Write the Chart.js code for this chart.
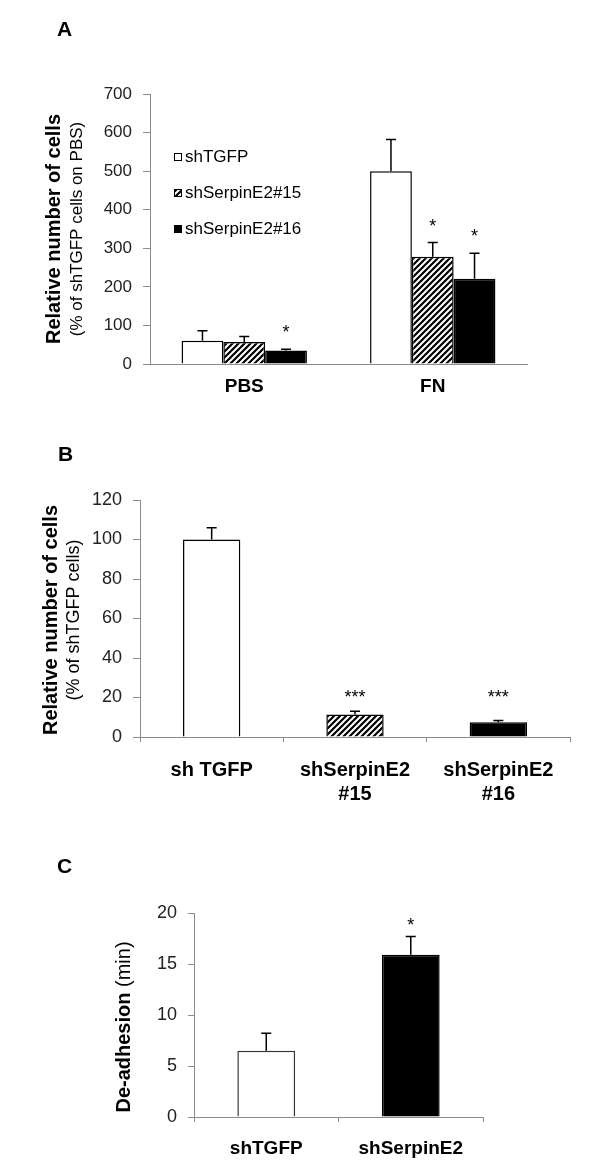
<!DOCTYPE html>
<html>
<head>
<meta charset="utf-8">
<script src="https://cdn.jsdelivr.net/npm/chart.js@4.4.0/dist/chart.umd.min.js"></script>
<style>
  html, body { margin: 0; padding: 0; background: #fff; }
  body { width: 600px; height: 1172px; position: relative; overflow: hidden; }
  canvas { position: absolute; left: 0; }
</style>
</head>
<body>
<canvas id="chartA" width="600" height="420" style="top:0px"></canvas>
<canvas id="chartB" width="600" height="390" style="top:420px"></canvas>
<canvas id="chartC" width="600" height="362" style="top:810px"></canvas>
<script>
// panel A - adhesion on PBS / fibronectin
const groupsA = ['PBS', 'FN'];
const namesA = ['shTGFP', 'shSerpinE2#15', 'shSerpinE2#16'];
const tgfpA = [60, 500];
const serp15A = [57, 278];
const serp16A = [35, 221];
const tgfpErrA = [26, 82];
const serp15ErrA = [14, 37];
const serp16ErrA = [3.5, 66];
const tgfpSigA = ['', ''];
const serp15SigA = ['', '*'];
const serp16SigA = ['*', '*'];
const yTitleA = ['Relative number of cells', '(% of shTGFP cells on PBS)'];

// panel B - migration
const labelsB = ['sh TGFP', ['shSerpinE2', '#15'], ['shSerpinE2', '#16']];
const valuesB = [100, 11.4, 7.5];
const errB = [6, 1.6, 0.8];
const sigB = ['', '***', '***'];
const yTitleB = ['Relative number of cells', '(% of shTGFP cells)'];

// panel C - de-adhesion time
const labelsC = ['shTGFP', 'shSerpinE2'];
const valuesC = [6.5, 15.9];
const errC = [1.7, 1.8];
const sigC = ['', '*'];
const yTitleC = ['De-adhesion', '(min)'];

const FONT = "'Liberation Sans', Arial, sans-serif";
const AXIS = '#8c8c8c';

function hatch(ctx) {
  const t = document.createElement('canvas');
  t.width = 6; t.height = 6;
  const g = t.getContext('2d');
  g.fillStyle = '#fff';
  g.fillRect(0, 0, 6, 6);
  g.strokeStyle = '#000';
  g.lineWidth = 2.2;
  g.beginPath();
  g.moveTo(-1, 7); g.lineTo(7, -1);
  g.moveTo(-4, 4); g.lineTo(4, -4);
  g.moveTo(2, 10); g.lineTo(10, 2);
  g.stroke();
  return ctx.createPattern(t, 'repeat');
}

// error bars, stars, panel letter, axis title, legend
const decor = {
  id: 'decor',
  afterDatasetsDraw(chart, args, o) {
    const ctx = chart.ctx;
    const ys = chart.scales.y;
    const marks = [];
    ctx.save();
    ctx.strokeStyle = '#000';
    ctx.lineWidth = 1.5;
    chart.data.datasets.forEach((ds, i) => {
      chart.getDatasetMeta(i).data.forEach((bar, j) => {
        const top = ys.getPixelForValue(ds.data[j] + ds.errors[j]);
        ctx.beginPath();
        ctx.moveTo(bar.x, bar.y);
        ctx.lineTo(bar.x, top);
        ctx.moveTo(bar.x - o.cap / 2, top);
        ctx.lineTo(bar.x + o.cap / 2, top);
        ctx.stroke();
        if (ds.sig[j]) marks.push({ x: bar.x, top: top, text: ds.sig[j] });
      });
    });
    const rowTop = Math.min(...marks.map(m => m.top));
    ctx.fillStyle = '#000';
    ctx.font = '18px ' + FONT;
    ctx.textAlign = 'center';
    ctx.textBaseline = 'alphabetic';
    marks.forEach(m => {
      const t = o.sameRow ? rowTop : m.top;
      ctx.fillText(m.text, m.x, t - o.markGap + 10);
    });
    ctx.restore();
  },
  afterDraw(chart, args, o) {
    const ctx = chart.ctx;
    ctx.save();
    ctx.fillStyle = '#000';
    ctx.font = 'bold 21px ' + FONT;
    ctx.textAlign = 'left';
    ctx.textBaseline = 'middle';
    ctx.fillText(o.letter, o.letterX, o.letterY);

    // rotated y title, rows may mix bold and regular parts
    o.rows.forEach((row, r) => {
      ctx.save();
      ctx.translate(o.rowX[r], o.titleY);
      ctx.rotate(-Math.PI / 2);
      let total = 0;
      row.forEach(s => { ctx.font = s.font; total += ctx.measureText(s.text).width; });
      let x = -total / 2;
      ctx.textAlign = 'left';
      ctx.textBaseline = 'middle';
      row.forEach(s => {
        ctx.font = s.font;
        ctx.fillText(s.text, x, 0);
        x += ctx.measureText(s.text).width;
      });
      ctx.restore();
    });

    if (o.legend) {
      const L = o.legend;
      ctx.font = '17px ' + FONT;
      ctx.textBaseline = 'middle';
      chart.data.datasets.forEach((ds, i) => {
        const y = L.y[i];
        ctx.fillStyle = ds.backgroundColor;
        ctx.fillRect(L.x, y - L.box / 2, L.box, L.box);
        ctx.strokeStyle = '#000';
        ctx.lineWidth = 1;
        ctx.strokeRect(L.x + 0.5, y - L.box / 2 + 0.5, L.box - 1, L.box - 1);
        ctx.fillStyle = '#000';
        ctx.fillText(ds.label, L.x + L.box + 3, y);
      });
    }
    ctx.restore();
  }
};

function yAxis(max, step, size, width, tickLen) {
  return {
    min: 0, max: max,
    ticks: { stepSize: step, color: '#222', font: { family: FONT, size: size }, padding: 11 },
    grid: { drawOnChartArea: false, tickLength: tickLen, color: AXIS },
    border: { color: AXIS },
    afterFit: s => { s.width = width; }
  };
}

function xAxis(size, pad, height, ticks) {
  return {
    grid: { display: ticks, drawTicks: ticks, drawOnChartArea: false, tickLength: 5, color: AXIS },
    border: { color: AXIS },
    ticks: { color: '#000', font: { family: FONT, size: size, weight: 'bold' }, padding: pad, maxRotation: 0 },
    afterFit: s => { s.height = height; }
  };
}

const base = { responsive: false, animation: false, devicePixelRatio: 1 };

// ---- A
const ctxA = document.getElementById('chartA').getContext('2d');
new Chart(ctxA, {
  type: 'bar',
  data: {
    labels: groupsA,
    datasets: [
      { label: namesA[0], data: tgfpA, errors: tgfpErrA, sig: tgfpSigA, backgroundColor: '#fff' },
      { label: namesA[1], data: serp15A, errors: serp15ErrA, sig: serp15SigA, backgroundColor: hatch(ctxA) },
      { label: namesA[2], data: serp16A, errors: serp16ErrA, sig: serp16SigA, backgroundColor: '#000' }
    ]
  },
  options: Object.assign({}, base, {
    layout: { padding: { top: 94, right: 73, bottom: 16, left: 0 } },
    datasets: { bar: { borderColor: '#000', borderWidth: 1.5, barPercentage: 1, categoryPercentage: 0.665 } },
    scales: { x: xAxis(19, 11, 40, false), y: yAxis(700, 100, 17, 150, 7) },
    plugins: {
      legend: { display: false },
      tooltip: { enabled: false },
      decor: {
        cap: 10, markGap: 21, sameRow: false,
        letter: 'A', letterX: 57, letterY: 30,
        rows: [[{ text: yTitleA[0], font: 'bold 20px ' + FONT }], [{ text: yTitleA[1], font: '17px ' + FONT }]],
        rowX: [54, 77], titleY: 229,
        legend: { x: 174, y: [157, 193, 229], box: 8 }
      }
    }
  }),
  plugins: [decor]
});

// ---- B
const ctxB = document.getElementById('chartB').getContext('2d');
new Chart(ctxB, {
  type: 'bar',
  data: {
    labels: labelsB,
    datasets: [{
      label: 'B', data: valuesB, errors: errB, sig: sigB,
      backgroundColor: ['#fff', hatch(ctxB), '#000']
    }]
  },
  options: Object.assign({}, base, {
    layout: { padding: { top: 80, right: 30, bottom: 0, left: 0 } },
    datasets: { bar: { borderColor: '#000', borderWidth: 1.5, barPercentage: 1, categoryPercentage: 0.4 } },
    scales: { x: xAxis(20, 16, 73, true), y: yAxis(120, 20, 18, 140, 7) },
    plugins: {
      legend: { display: false },
      tooltip: { enabled: false },
      decor: {
        cap: 10, markGap: 18, sameRow: true,
        letter: 'B', letterX: 58, letterY: 35,
        rows: [[{ text: yTitleB[0], font: 'bold 20px ' + FONT }], [{ text: yTitleB[1], font: '18px ' + FONT }]],
        rowX: [51, 74], titleY: 200
      }
    }
  }),
  plugins: [decor]
});

// ---- C
const ctxC = document.getElementById('chartC').getContext('2d');
new Chart(ctxC, {
  type: 'bar',
  data: {
    labels: labelsC,
    datasets: [{
      label: 'C', data: valuesC, errors: errC, sig: sigC,
      backgroundColor: ['#fff', '#000'],
      borderColor: ['#333', '#000']
    }]
  },
  options: Object.assign({}, base, {
    layout: { padding: { top: 103, right: 117, bottom: 0, left: 0 } },
    datasets: { bar: { borderWidth: 1.5, barPercentage: 1, categoryPercentage: 0.4 } },
    scales: { x: xAxis(19, 15, 55, true), y: yAxis(20, 5, 18, 194, 6) },
    plugins: {
      legend: { display: false },
      tooltip: { enabled: false },
      decor: {
        cap: 10, markGap: 15, sameRow: false,
        letter: 'C', letterX: 57, letterY: 57,
        rows: [[{ text: yTitleC[0] + ' ', font: 'bold 20px ' + FONT }, { text: yTitleC[1], font: '20px ' + FONT }]],
        rowX: [124], titleY: 217
      }
    }
  }),
  plugins: [decor]
});
</script>
</body>
</html>
